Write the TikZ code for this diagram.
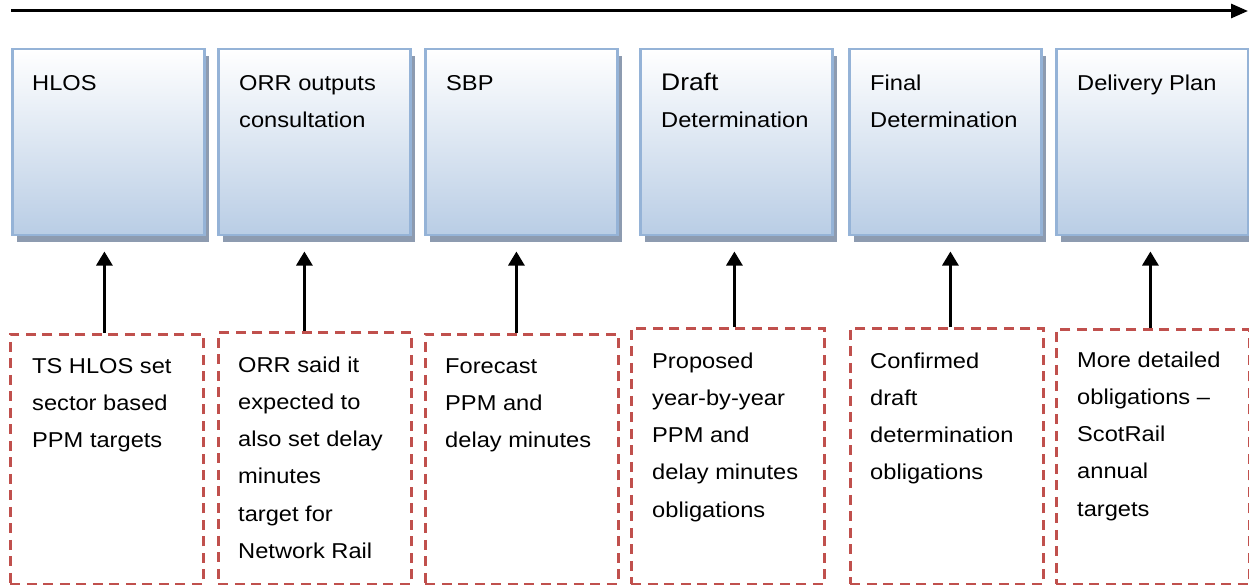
\documentclass[tikz,border=0pt]{standalone}
\usepackage{fontspec}
\setmainfont{Liberation Sans}[FakeStretch=1.1]
\usetikzlibrary{arrows.meta,positioning,shadows}
\definecolor{boxblue}{RGB}{185,205,229}
\definecolor{boxedge}{RGB}{149,179,215}
\definecolor{boxshadow}{RGB}{141,155,176}
\definecolor{dashred}{RGB}{192,80,77}

\begin{document}
\begin{tikzpicture}[x=1pt,y=-1pt,
 stage/.style={draw=boxedge,line width=2.5pt,top color=white,bottom color=boxblue,
   minimum width=192pt,minimum height=186pt,anchor=north west,inner sep=0pt,
   drop shadow={shadow xshift=5pt,shadow yshift=-7pt,fill=boxshadow,opacity=1}},
 note/.style={draw=dashred,line width=2.8pt,dash pattern=on 10pt off 6.5pt,
   minimum width=193pt,anchor=north west,inner sep=0pt},
 txt/.style={inner sep=0pt,align=left,font=\fontsize{21.5}{37.2}\selectfont},
 up/.style={-{Triangle[length=14pt,width=16pt]},line width=2.8pt}]
\useasboundingbox (0,0) rectangle (1249,585);
% time line along the top
\coordinate (start) at (11,11);
\coordinate (end) at (1248,11);
\draw[line width=3pt,-{Triangle[length=17pt,width=14pt]}] (start) -- (end);
% stages
\node[stage] (t1) at (11,48) {};
\node[stage] (t2) at (217,48) {};
\node[stage] (t3) at (424,48) {};
\node[stage] (t4) at (639,48) {};
\node[stage] (t5) at (848,48) {};
\node[stage] (t6) at (1055,48) {};
\node[txt,below right=16pt and 21pt of t1.north west] (s1) {\strut HLOS};
\node[txt,below right=16pt and 22pt of t2.north west] (s2) {\strut ORR outputs\\consultation};
\node[txt,below right=16pt and 22pt of t3.north west] (s3) {\strut SBP};
\node[txt,below right=16pt and 22pt of t4.north west] (s4) {\strut{\fontsize{24}{37.2}\selectfont Draft}\\Determination};
\node[txt,below right=16pt and 22pt of t5.north west] (s5) {\strut Final\\Determination};
\node[txt,below right=16pt and 22pt of t6.north west] (s6) {\strut Delivery Plan};
% notes under each stage
\node[note,minimum height=250pt] (b1) at (9,333) {};
\node[note,minimum height=252pt] (b2) at (217,331) {};
\node[note,minimum height=250pt] (b3) at (424,333) {};
\node[note,minimum height=256pt] (b4) at (630,327) {};
\node[note,minimum height=256pt] (b5) at (849,327) {};
\node[note,minimum height=255pt] (b6) at (1055,328) {};
\node[txt,below right=14pt and 23pt of b1.north west] (n1) {\strut TS HLOS set\\sector based\\PPM targets};
\node[txt,below right=15pt and 21pt of b2.north west] (n2) {\strut ORR said it\\expected to\\also set delay\\minutes\\target for\\Network Rail};
\node[txt,below right=14pt and 21pt of b3.north west] (n3) {\strut Forecast\\PPM and\\delay minutes};
\node[txt,below right=15pt and 22pt of b4.north west] (n4) {\strut Proposed\\year-by-year\\PPM and\\delay minutes\\obligations};
\node[txt,below right=15pt and 21pt of b5.north west] (n5) {\strut Confirmed\\draft\\determination\\obligations};
\node[txt,below right=13pt and 22pt of b6.north west] (n6) {\strut More detailed\\obligations --\\ScotRail\\annual\\targets};
% arrows from notes up to stages
\foreach \i/\dx in {1/-2.5,2/-10.5,3/-5.5,4/6.5,5/3.5,6/-2.5}
  \draw[up] ([xshift=\dx pt]b\i.north) -- ([xshift=\dx pt,yshift=-15pt]b\i.north |- t\i.south);
\end{tikzpicture}
\end{document}
